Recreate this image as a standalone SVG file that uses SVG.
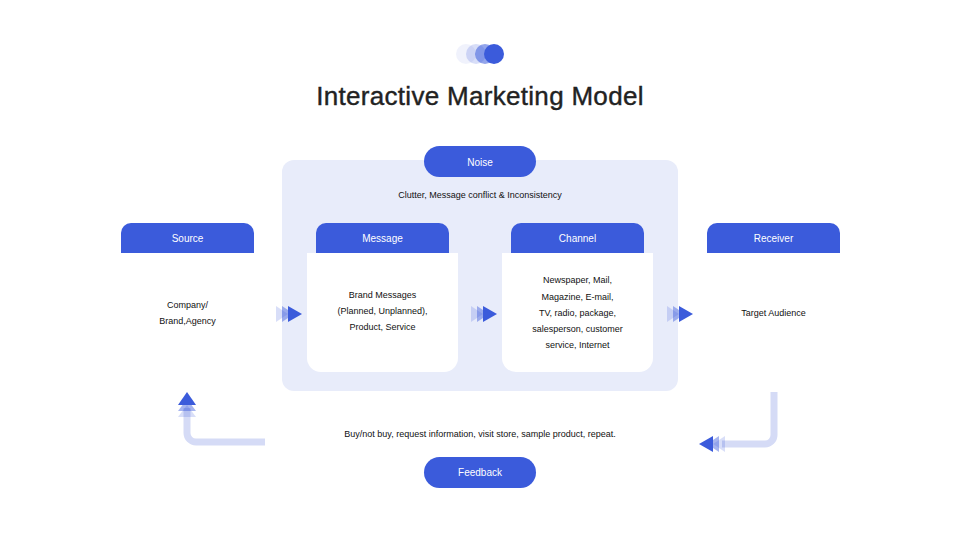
<svg xmlns="http://www.w3.org/2000/svg" width="960" height="540" viewBox="0 0 960 540">
<defs>
<style>
.t{font-family:"Liberation Sans",Arial,sans-serif;text-anchor:middle;}
.title{font-size:26px;fill:#222222;stroke:#222222;stroke-width:0.4px;letter-spacing:0.3px;}
.wh{font-size:10px;fill:#ffffff;}
.sm{font-size:9px;fill:#111111;}
.blue{fill:#3B5BDB;}
.pill{fill:#3B5BDB;}
.panel{fill:#E8ECFA;}
.box{fill:#ffffff;}
.fb{fill:none;stroke:#D5DBF6;stroke-width:7;stroke-linejoin:round;}
</style>
<g id="chev">
<polygon points="-26,-8 -14,0 -26,8" fill="#3B5BDB" opacity="0.2"/>
<polygon points="-20,-8 -8,0 -20,8" fill="#3B5BDB" opacity="0.45"/>
<polygon points="-14,-8 0,0 -14,8" fill="#3B5BDB"/>
</g>
</defs>
<rect width="960" height="540" fill="#ffffff"/>

<g id="logo">
<circle cx="466" cy="54" r="10" fill="#3B5BDB" opacity="0.08"/>
<circle cx="476" cy="54" r="10" fill="#3B5BDB" opacity="0.2"/>
<circle cx="485" cy="54" r="10" fill="#3B5BDB" opacity="0.55"/>
<circle cx="494" cy="54" r="10" fill="#3B5BDB"/>
</g>
<text class="t title" x="480" y="105">Interactive Marketing Model</text>

<g id="panel">
<rect class="panel" x="282" y="160" width="396" height="231" rx="12"/>
</g>

<g id="noise">
<rect class="pill" x="424" y="146" width="112" height="31" rx="15.5"/>
<text class="t wh" x="480" y="165.5">Noise</text>
<text class="t sm" x="480" y="198">Clutter, Message conflict &amp; Inconsistency</text>
</g>

<g id="source">
<path class="blue" d="M121,253 V233 a10,10 0 0 1 10,-10 H244 a10,10 0 0 1 10,10 V253 Z"/>
<text class="t wh" x="187.5" y="242">Source</text>
<text class="t sm" x="187.5" y="308">Company/</text>
<text class="t sm" x="187.5" y="324">Brand,Agency</text>
</g>

<g id="message">
<path class="blue" d="M316,253 V233 a10,10 0 0 1 10,-10 H439 a10,10 0 0 1 10,10 V253 Z"/>
<text class="t wh" x="382.5" y="242">Message</text>
<rect class="box" x="307" y="253" width="151" height="119" rx="14"/>
<rect class="box" x="307" y="253" width="151" height="20"/>
<text class="t sm" x="382.5" y="298">Brand Messages</text>
<text class="t sm" x="382.5" y="314">(Planned, Unplanned),</text>
<text class="t sm" x="382.5" y="330">Product, Service</text>
</g>

<g id="channel">
<path class="blue" d="M511,253 V233 a10,10 0 0 1 10,-10 H634 a10,10 0 0 1 10,10 V253 Z"/>
<text class="t wh" x="577.5" y="242">Channel</text>
<rect class="box" x="502" y="253" width="151" height="119" rx="14"/>
<rect class="box" x="502" y="253" width="151" height="20"/>
<text class="t sm" x="577.5" y="283">Newspaper, Mail,</text>
<text class="t sm" x="577.5" y="300">Magazine, E-mail,</text>
<text class="t sm" x="577.5" y="316">TV, radio, package,</text>
<text class="t sm" x="577.5" y="332">salesperson, customer</text>
<text class="t sm" x="577.5" y="348">service, Internet</text>
</g>

<g id="receiver">
<path class="blue" d="M707,253 V233 a10,10 0 0 1 10,-10 H830 a10,10 0 0 1 10,10 V253 Z"/>
<text class="t wh" x="773.5" y="242">Receiver</text>
<text class="t sm" x="773.5" y="316">Target Audience</text>
</g>

<g id="feedback">
<text class="t sm" x="480" y="437">Buy/not buy, request information, visit store, sample product, repeat.</text>
<rect class="pill" x="424" y="457" width="112" height="31" rx="15.5"/>
<text class="t wh" x="480" y="476">Feedback</text>
</g>

<g id="connectors">
<use href="#chev" x="302" y="314"/>
<use href="#chev" x="497" y="314"/>
<use href="#chev" x="693" y="314"/>
<path class="fb" d="M265,442 H196 a9,9 0 0 1 -9,-9 V408"/>
<polygon points="178,417 187,405 196,417" fill="#3B5BDB" opacity="0.2"/>
<polygon points="178,411 187,399 196,411" fill="#3B5BDB" opacity="0.45"/>
<polygon points="178,405 187,392 196,405" fill="#3B5BDB"/>
<path class="fb" d="M774,392 V435 a9,9 0 0 1 -9,9 H722"/>
<polygon points="725,436 713,444 725,452" fill="#3B5BDB" opacity="0.2"/>
<polygon points="719,436 707,444 719,452" fill="#3B5BDB" opacity="0.45"/>
<polygon points="713,436 699,444 713,452" fill="#3B5BDB"/>
</g>
</svg>
